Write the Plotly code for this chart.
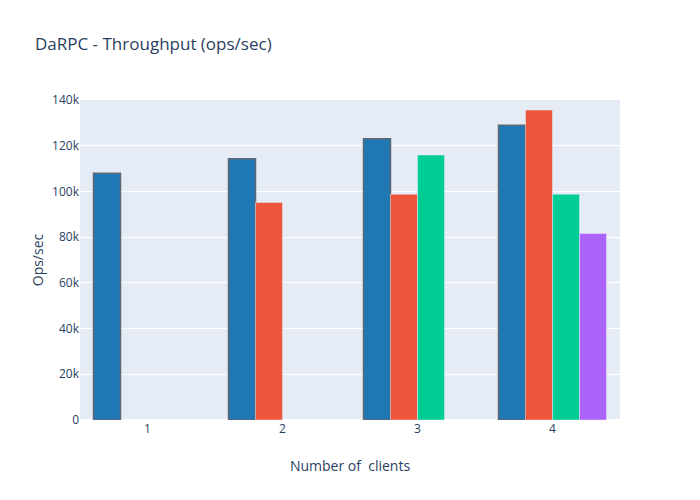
import plotly.graph_objects as go

clients = [1, 2, 3, 4]
series_a = [108000, 114300, 123000, 129000]
series_b = [None, 95200, 98800, 135600]
series_c = [None, None, 115900, 98800]
series_d = [None, None, None, 81600]

fig = go.Figure()
fig.add_trace(go.Bar(x=clients, y=series_a, marker=dict(color="#1f77b4", line=dict(color="#5f6874", width=1.5))))
fig.add_trace(go.Bar(x=clients, y=series_b, marker=dict(color="#EF553B")))
fig.add_trace(go.Bar(x=clients, y=series_c, marker=dict(color="#00CC96")))
fig.add_trace(go.Bar(x=clients, y=series_d, marker=dict(color="#AB63FA")))

fig.update_layout(
    width=700, height=500,
    margin=dict(l=80, r=80, t=100, b=80),
    title=dict(text="DaRPC - Throughput (ops/sec)"),
    xaxis=dict(title=dict(text="Number of  clients", standoff=25), tickvals=clients),
    yaxis=dict(title=dict(text="Ops/sec", standoff=5), range=[0, 140000]),
    barmode="group",
    showlegend=False,
)
fig.write_html("out.html", config={"displayModeBar": False},
               post_script="document.body.style.margin='0';document.body.style.overflow='hidden';")
